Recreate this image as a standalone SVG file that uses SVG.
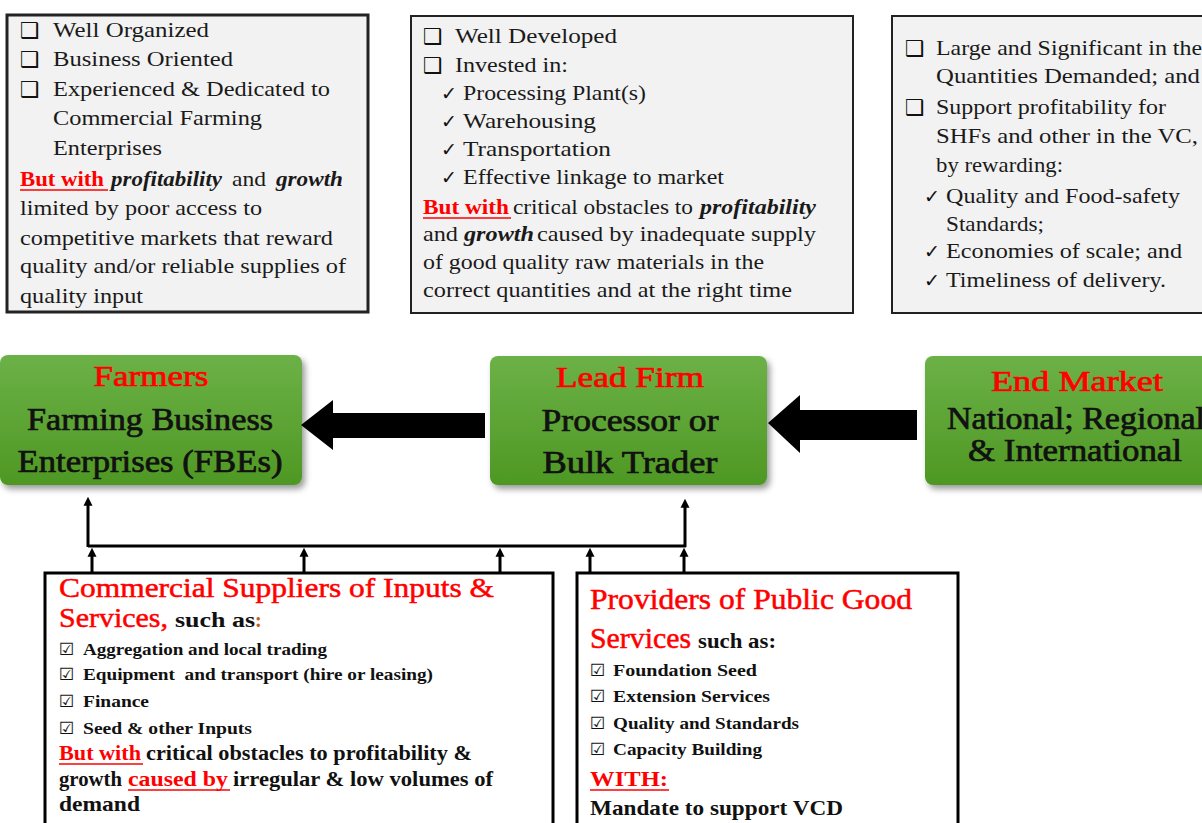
<svg xmlns="http://www.w3.org/2000/svg" width="1202" height="823" viewBox="0 0 1202 823">
<style>
.t{font-family:"Liberation Serif",serif;font-size:21px;fill:#1a1a1a}
.bi{font-weight:bold;font-style:italic}
.bw{font-family:"Liberation Serif",serif;font-size:21px;font-weight:bold;fill:#ff0000}
.bul{font-family:"DejaVu Sans",sans-serif;font-size:22px;fill:#111}
.chk{font-family:"DejaVu Sans",sans-serif;font-size:19px;fill:#111}
.cb{font-family:"DejaVu Sans",sans-serif;font-size:17px;fill:#111}
.box{fill:#f2f2f2;stroke:#222;stroke-width:2}
.wbox{fill:#ffffff;stroke:#000;stroke-width:3}
.node{fill:url(#g);filter:url(#sh)}
.nh{font-family:"Liberation Serif",serif;font-size:29px;fill:#ff0000;stroke:#ff0000;stroke-width:0.7;text-anchor:middle}
.nt{font-family:"Liberation Serif",serif;font-size:31px;fill:#111;stroke:#111;stroke-width:0.7;text-anchor:middle}
.hd{font-family:"Liberation Serif",serif;font-size:28px;fill:#ff0000;stroke:#ff0000;stroke-width:0.5}
.it{font-family:"Liberation Serif",serif;font-size:17px;font-weight:bold;fill:#111}
.bt{font-family:"Liberation Serif",serif;font-size:21px;font-weight:bold;fill:#111}
.ul{stroke:#ff0000;stroke-width:1.5}
.con{stroke:#000;stroke-width:3;fill:none}
</style>
<defs>
<linearGradient id="g" x1="0" y1="0" x2="0" y2="1">
<stop offset="0" stop-color="#6cb147"/>
<stop offset="1" stop-color="#4e9823"/>
</linearGradient>
<filter id="sh" x="-10%" y="-10%" width="125%" height="130%">
<feDropShadow dx="3" dy="4" stdDeviation="3" flood-color="#000" flood-opacity="0.4"/>
</filter>
<marker id="ah" viewBox="0 0 10 10" refX="3" refY="5" markerWidth="9" markerHeight="10" orient="auto" markerUnits="userSpaceOnUse">
<path d="M0,0 L10,5 L0,10 z" fill="#000"/>
</marker>
</defs>

<g id="farmers-desc">
<rect class="box" x="7" y="15" width="361" height="297" style="stroke-width:3"/>
<text class="bul" x="20" y="38">❑</text>
<text class="bul" x="20" y="67">❑</text>
<text class="bul" x="20" y="97">❑</text>
<text class="t" x="53" y="37" textLength="156" lengthAdjust="spacingAndGlyphs">Well Organized</text>
<text class="t" x="53" y="66" textLength="180" lengthAdjust="spacingAndGlyphs">Business Oriented</text>
<text class="t" x="53" y="96" textLength="277" lengthAdjust="spacingAndGlyphs">Experienced &amp; Dedicated to</text>
<text class="t" x="53" y="125" textLength="209" lengthAdjust="spacingAndGlyphs">Commercial Farming</text>
<text class="t" x="53" y="155" textLength="109" lengthAdjust="spacingAndGlyphs">Enterprises</text>
<text class="bw" x="20" y="186" textLength="84" lengthAdjust="spacingAndGlyphs">But with</text>
<line class="ul" x1="20" y1="190" x2="108" y2="190"/>
<text class="t bi" x="111" y="186" textLength="111" lengthAdjust="spacingAndGlyphs">profitability</text>
<text class="t" x="232" y="186" textLength="34" lengthAdjust="spacingAndGlyphs">and</text>
<text class="t bi" x="276" y="186" textLength="67" lengthAdjust="spacingAndGlyphs">growth</text>
<text class="t" x="20" y="215" textLength="242" lengthAdjust="spacingAndGlyphs">limited by poor access to</text>
<text class="t" x="20" y="245" textLength="313" lengthAdjust="spacingAndGlyphs">competitive markets that reward</text>
<text class="t" x="20" y="273" textLength="326" lengthAdjust="spacingAndGlyphs">quality and/or reliable supplies of</text>
<text class="t" x="20" y="303" textLength="123" lengthAdjust="spacingAndGlyphs">quality input</text>
</g>

<g id="leadfirm-desc">
<rect class="box" x="411" y="16" width="442" height="297"/>
<text class="bul" x="423" y="44">❑</text>
<text class="bul" x="423" y="73">❑</text>
<text class="t" x="455" y="43" textLength="162" lengthAdjust="spacingAndGlyphs">Well Developed</text>
<text class="t" x="455" y="72" textLength="113" lengthAdjust="spacingAndGlyphs">Invested in:</text>
<text class="chk" x="441" y="100">✓</text>
<text class="chk" x="441" y="128">✓</text>
<text class="chk" x="441" y="156">✓</text>
<text class="chk" x="441" y="184">✓</text>
<text class="t" x="463" y="100" textLength="183" lengthAdjust="spacingAndGlyphs">Processing Plant(s)</text>
<text class="t" x="463" y="128" textLength="133" lengthAdjust="spacingAndGlyphs">Warehousing</text>
<text class="t" x="463" y="156" textLength="148" lengthAdjust="spacingAndGlyphs">Transportation</text>
<text class="t" x="463" y="184" textLength="261" lengthAdjust="spacingAndGlyphs">Effective linkage to market</text>
<text class="bw" x="423" y="214" textLength="86" lengthAdjust="spacingAndGlyphs">But with</text>
<line class="ul" x1="423" y1="218" x2="511" y2="218"/>
<text class="t" x="513" y="214" textLength="180" lengthAdjust="spacingAndGlyphs">critical obstacles to</text>
<text class="t bi" x="700" y="214" textLength="116" lengthAdjust="spacingAndGlyphs">profitability</text>
<text class="t" x="423" y="241" textLength="35" lengthAdjust="spacingAndGlyphs">and</text>
<text class="t bi" x="464" y="241" textLength="70" lengthAdjust="spacingAndGlyphs">growth</text>
<text class="t" x="537" y="241" textLength="279" lengthAdjust="spacingAndGlyphs">caused by inadequate supply</text>
<text class="t" x="423" y="269" textLength="341" lengthAdjust="spacingAndGlyphs">of good quality raw materials in the</text>
<text class="t" x="423" y="297" textLength="369" lengthAdjust="spacingAndGlyphs">correct quantities and at the right time</text>
</g>

<g id="endmarket-desc">
<rect class="box" x="892" y="16" width="320" height="297"/>
<text class="bul" x="905" y="56">❑</text>
<text class="bul" x="905" y="115">❑</text>
<text class="t" x="936" y="55" textLength="266" lengthAdjust="spacingAndGlyphs">Large and Significant in the</text>
<text class="t" x="936" y="83" textLength="264" lengthAdjust="spacingAndGlyphs">Quantities Demanded; and</text>
<text class="t" x="936" y="114" textLength="230" lengthAdjust="spacingAndGlyphs">Support profitability for</text>
<text class="t" x="936" y="143" textLength="262" lengthAdjust="spacingAndGlyphs">SHFs and other in the VC,</text>
<text class="t" x="936" y="172" textLength="127" lengthAdjust="spacingAndGlyphs">by rewarding:</text>
<text class="chk" x="924" y="203">✓</text>
<text class="chk" x="924" y="258">✓</text>
<text class="chk" x="924" y="287">✓</text>
<text class="t" x="946" y="203" textLength="234" lengthAdjust="spacingAndGlyphs">Quality and Food-safety</text>
<text class="t" x="946" y="231" textLength="98" lengthAdjust="spacingAndGlyphs">Standards;</text>
<text class="t" x="946" y="258" textLength="236" lengthAdjust="spacingAndGlyphs">Economies of scale; and</text>
<text class="t" x="946" y="287" textLength="220" lengthAdjust="spacingAndGlyphs">Timeliness of delivery.</text>
</g>

<g id="farmers">
<rect class="node" x="0" y="355" width="302" height="130" rx="8"/>
<text class="nh" x="151" y="386" textLength="115" lengthAdjust="spacingAndGlyphs">Farmers</text>
<text class="nt" x="150" y="430" textLength="246" lengthAdjust="spacingAndGlyphs">Farming Business</text>
<text class="nt" x="150" y="472" textLength="265" lengthAdjust="spacingAndGlyphs">Enterprises (FBEs)</text>
</g>

<g id="leadfirm">
<rect class="node" x="490" y="356" width="277" height="129" rx="8"/>
<text class="nh" x="630" y="387" textLength="148" lengthAdjust="spacingAndGlyphs">Lead Firm</text>
<text class="nt" x="630" y="431" textLength="177" lengthAdjust="spacingAndGlyphs">Processor or</text>
<text class="nt" x="630" y="473" textLength="175" lengthAdjust="spacingAndGlyphs">Bulk Trader</text>
</g>

<g id="endmarket">
<rect class="node" x="925" y="356" width="300" height="129" rx="8"/>
<text class="nh" x="1077" y="391" textLength="172" lengthAdjust="spacingAndGlyphs">End Market</text>
<text class="nt" x="1076" y="429" textLength="258" lengthAdjust="spacingAndGlyphs">National; Regional</text>
<text class="nt" x="1075" y="461" textLength="214" lengthAdjust="spacingAndGlyphs">&amp; International</text>
</g>

<g id="commercial">
<rect class="wbox" x="45" y="573" width="508" height="270"/>
<text class="hd" x="59" y="597" style="font-size:27px" textLength="435" lengthAdjust="spacingAndGlyphs">Commercial Suppliers of Inputs &amp;</text>
<text class="hd" x="59" y="627" style="font-size:27px" textLength="109" lengthAdjust="spacingAndGlyphs">Services,</text>
<text class="bt" x="175" y="627" style="font-size:20px" textLength="80" lengthAdjust="spacingAndGlyphs">such as</text>
<text class="bt" x="255" y="627" style="font-size:20px;fill:#c55a11">:</text>
<text class="cb" x="59" y="655">☑</text>
<text class="cb" x="59" y="680">☑</text>
<text class="cb" x="59" y="707">☑</text>
<text class="cb" x="59" y="734">☑</text>
<text class="it" x="83" y="655" textLength="244" lengthAdjust="spacingAndGlyphs">Aggregation and local trading</text>
<text class="it" x="83" y="680" textLength="350" lengthAdjust="spacingAndGlyphs" style="white-space:pre">Equipment  and transport (hire or leasing)</text>
<text class="it" x="83" y="707" textLength="66" lengthAdjust="spacingAndGlyphs">Finance</text>
<text class="it" x="83" y="734" textLength="169" lengthAdjust="spacingAndGlyphs">Seed &amp; other Inputs</text>
<text class="bw" x="59" y="760" textLength="82" lengthAdjust="spacingAndGlyphs">But with</text>
<line class="ul" x1="59" y1="764" x2="143" y2="764"/>
<text class="bt" x="146" y="760" textLength="326" lengthAdjust="spacingAndGlyphs">critical obstacles to profitability &amp;</text>
<text class="bt" x="59" y="786" textLength="63" lengthAdjust="spacingAndGlyphs">growth</text>
<text class="bw" x="128" y="786" textLength="100" lengthAdjust="spacingAndGlyphs">caused by</text>
<line class="ul" x1="128" y1="790" x2="230" y2="790"/>
<text class="bt" x="233" y="786" textLength="260" lengthAdjust="spacingAndGlyphs">irregular &amp; low volumes of</text>
<text class="bt" x="59" y="811" textLength="81" lengthAdjust="spacingAndGlyphs">demand</text>
</g>

<g id="public">
<rect class="wbox" x="577" y="573" width="381" height="270"/>
<text class="hd" x="590" y="609" style="font-size:29px" textLength="322" lengthAdjust="spacingAndGlyphs">Providers of Public Good</text>
<text class="hd" x="590" y="648" style="font-size:29px" textLength="101" lengthAdjust="spacingAndGlyphs">Services</text>
<text class="bt" x="698" y="648" style="font-size:20px" textLength="78" lengthAdjust="spacingAndGlyphs">such as:</text>
<text class="cb" x="590" y="676">☑</text>
<text class="cb" x="590" y="702">☑</text>
<text class="cb" x="590" y="729">☑</text>
<text class="cb" x="590" y="755">☑</text>
<text class="it" x="613" y="676" textLength="144" lengthAdjust="spacingAndGlyphs">Foundation Seed</text>
<text class="it" x="613" y="702" textLength="157" lengthAdjust="spacingAndGlyphs">Extension Services</text>
<text class="it" x="613" y="729" textLength="186" lengthAdjust="spacingAndGlyphs">Quality and Standards</text>
<text class="it" x="613" y="755" textLength="149" lengthAdjust="spacingAndGlyphs">Capacity Building</text>
<text class="bw" x="590" y="786" style="font-size:20px" textLength="78" lengthAdjust="spacingAndGlyphs">WITH:</text>
<line class="ul" x1="590" y1="790" x2="669" y2="790"/>
<text class="bt" x="590" y="815" textLength="253" lengthAdjust="spacingAndGlyphs">Mandate to support VCD</text>
</g>

<g id="connectors">
<polygon points="301,425 333,400 333,413 485,413 485,438 333,438 333,450" fill="#000"/>
<polygon points="768,423 800,395 800,410 917,410 917,440 800,440 800,453" fill="#000"/>
<path class="con" d="M88,546 H686"/>
<path class="con" d="M88,547 V503" marker-end="url(#ah)"/>
<path class="con" d="M685,547 V505" marker-end="url(#ah)"/>
<path class="con" d="M92,574 V554" marker-end="url(#ah)"/>
<path class="con" d="M304,574 V554" marker-end="url(#ah)"/>
<path class="con" d="M500,574 V554" marker-end="url(#ah)"/>
<path class="con" d="M590,574 V554" marker-end="url(#ah)"/>
<path class="con" d="M684,574 V554" marker-end="url(#ah)"/>
</g>
</svg>
